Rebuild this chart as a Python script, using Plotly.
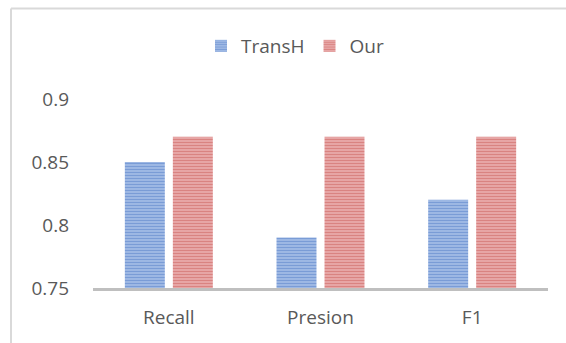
import plotly.graph_objects as go

categories = ["Recall", "Presion", "F1"]
transh_values = [0.85, 0.79, 0.82]
our_values = [0.87, 0.87, 0.87]
y_ticks = [0.75, 0.8, 0.85, 0.9]
y_tick_text = ["0.75", "0.8", "0.85", "0.9"]

W, H = 566, 343
text_color = "#595959"
font_family = "Open Sans, Noto Sans, sans-serif"

fig = go.Figure()
fig.add_trace(go.Bar(
    name="TransH", x=categories, y=transh_values,
    marker=dict(color="#b4c9ec", line=dict(width=0),
                pattern=dict(shape="-", fgcolor="#3f6fc0", size=3, solidity=0.6)),
))
fig.add_trace(go.Bar(
    name="Our", x=categories, y=our_values,
    marker=dict(color="#efbcbb", line=dict(width=0),
                pattern=dict(shape="-", fgcolor="#c44a48", size=3, solidity=0.6)),
))

fig.update_layout(
    width=W, height=H,
    margin=dict(l=93, r=18, t=99, b=55, autoexpand=False),
    paper_bgcolor="white", plot_bgcolor="white",
    barmode="group", bargap=0.367, bargroupgap=0.167,
    font=dict(family=font_family, size=19, color=text_color),
    legend=dict(orientation="h", xref="container", yref="container",
                x=0.5 + 12 / W, xanchor="center", y=1 - 46 / H, yanchor="middle",
                font=dict(size=19, color=text_color), itemwidth=30,
                traceorder="normal"),
    xaxis=dict(showgrid=False, showline=True, linecolor="#bfbfbf", linewidth=2.5,
               ticks="", ticklabelstandoff=10, zeroline=False, automargin=False),
    yaxis=dict(range=[0.75, 0.9], tickvals=y_ticks, ticktext=y_tick_text,
               showgrid=False, showline=False, zeroline=False, ticks="",
               ticklabelstandoff=23, automargin=False),
    shapes=[
        dict(type="line", xref="paper", yref="paper",
             x0=-82 / 455, x1=1 + 18 / 455, y0=1 + 90.5 / 189, y1=1 + 90.5 / 189,
             line=dict(color="#d9d9d9", width=2)),
        dict(type="line", xref="paper", yref="paper",
             x0=-82 / 455, x1=-82 / 455, y0=1 + 90.5 / 189, y1=-55 / 189,
             line=dict(color="#d9d9d9", width=2)),
    ],
)

fig.write_html("out.html")
